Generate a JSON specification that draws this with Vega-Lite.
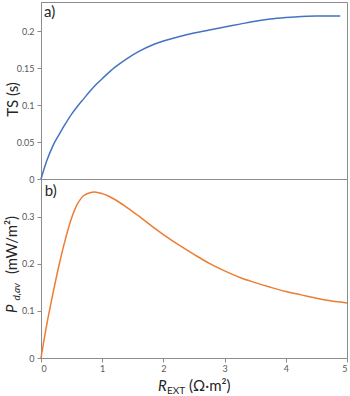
{
  "$schema": "https://vega.github.io/schema/vega-lite/v6.json",
  "padding": {"left": 4, "top": 1, "right": 0, "bottom": 0},
  "spacing": 0,
  "bounds": "flush",
  "config": {
    "view": {"stroke": "#8c8c8c", "strokeWidth": 1},
    "font": "Lato",
    "axis": {
      "domainColor": "#8c8c8c",
      "tickColor": "#8c8c8c",
      "tickSize": 4,
      "labelFont": "Lato",
      "labelFontSize": 9,
      "labelColor": "#595959",
      "labelPadding": 3,
      "grid": false,
      "titleFont": "Lato",
      "titleFontWeight": "normal",
      "titleFontSize": 15,
      "titleColor": "#262626"
    },
    "text": {"font": "Lato", "color": "#262626"}
  },
  "datasets": {
    "ts": [
      {"x": 0, "ts": 0}, {"x": 0.1, "ts": 0.026}, {"x": 0.2, "ts": 0.046}, {"x": 0.3, "ts": 0.061},
      {"x": 0.4, "ts": 0.075}, {"x": 0.5, "ts": 0.088}, {"x": 0.6, "ts": 0.099}, {"x": 0.7, "ts": 0.109},
      {"x": 0.8, "ts": 0.119}, {"x": 0.9, "ts": 0.128}, {"x": 1.0, "ts": 0.136}, {"x": 1.2, "ts": 0.151},
      {"x": 1.4, "ts": 0.163}, {"x": 1.6, "ts": 0.173}, {"x": 1.8, "ts": 0.181}, {"x": 2.0, "ts": 0.187},
      {"x": 2.25, "ts": 0.193}, {"x": 2.5, "ts": 0.198}, {"x": 2.75, "ts": 0.202}, {"x": 3.0, "ts": 0.206},
      {"x": 3.25, "ts": 0.210}, {"x": 3.5, "ts": 0.214}, {"x": 3.75, "ts": 0.217}, {"x": 4.0, "ts": 0.219},
      {"x": 4.25, "ts": 0.2205}, {"x": 4.5, "ts": 0.221}, {"x": 4.89, "ts": 0.221}
    ],
    "pd": [
      {"x": 0, "p": 0}, {"x": 0.1, "p": 0.075}, {"x": 0.2, "p": 0.140}, {"x": 0.3, "p": 0.200},
      {"x": 0.4, "p": 0.253}, {"x": 0.5, "p": 0.297}, {"x": 0.6, "p": 0.328}, {"x": 0.7, "p": 0.345},
      {"x": 0.8, "p": 0.351}, {"x": 0.9, "p": 0.352}, {"x": 1.0, "p": 0.349}, {"x": 1.1, "p": 0.344},
      {"x": 1.2, "p": 0.337}, {"x": 1.4, "p": 0.320}, {"x": 1.6, "p": 0.301}, {"x": 1.8, "p": 0.281},
      {"x": 2.0, "p": 0.262}, {"x": 2.25, "p": 0.240}, {"x": 2.5, "p": 0.220}, {"x": 2.75, "p": 0.201},
      {"x": 3.0, "p": 0.185}, {"x": 3.25, "p": 0.171}, {"x": 3.5, "p": 0.160}, {"x": 3.75, "p": 0.150},
      {"x": 4.0, "p": 0.141}, {"x": 4.25, "p": 0.134}, {"x": 4.5, "p": 0.127}, {"x": 4.75, "p": 0.121},
      {"x": 5.0, "p": 0.117}
    ],
    "la": [{"label": "a)"}],
    "lb": [{"label": "b)"}],
    "t_p": [{"label": "P"}],
    "t_dav": [{"label": "d,av"}],
    "t_unit_p": [{"label": "(mW/m²)"}],
    "t_r": [{"label": "R"}],
    "t_ext": [{"label": "EXT"}],
    "t_unit_r": [{"label": "(Ω·m²)"}]
  },
  "vconcat": [
    {
      "width": 306,
      "height": 177,
      "layer": [
        {
          "data": {"name": "ts"},
          "mark": {"type": "line", "color": "#4472C4", "strokeWidth": 1.5, "interpolate": "catmull-rom"},
          "encoding": {
            "x": {"field": "x", "type": "quantitative", "scale": {"domain": [0, 5], "nice": false}, "axis": null},
            "y": {
              "field": "ts", "type": "quantitative",
              "scale": {"domain": [0, 0.24], "nice": false},
              "axis": {
                "title": "TS (s)",
                "values": [0, 0.025, 0.05, 0.075, 0.1, 0.125, 0.15, 0.175, 0.2, 0.225],
                "labelExpr": "round(datum.value * 40) % 2 == 0 ? '' + datum.value : ''",
                "minExtent": 21, "maxExtent": 21, "titlePadding": 0, "titleY": 97
              }
            }
          }
        },
        {
          "data": {"name": "la"},
          "mark": {"type": "text", "align": "left", "baseline": "alphabetic", "fontSize": 15},
          "encoding": {
            "x": {"datum": 0.05, "type": "quantitative"},
            "y": {"datum": 0.2197, "type": "quantitative"},
            "text": {"field": "label"}
          }
        }
      ]
    },
    {
      "width": 306,
      "height": 179,
      "layer": [
        {
          "data": {"name": "pd"},
          "mark": {"type": "line", "color": "#ED7D31", "strokeWidth": 1.5, "interpolate": "catmull-rom"},
          "encoding": {
            "x": {
              "field": "x", "type": "quantitative",
              "scale": {"domain": [0, 5], "nice": false},
              "axis": {
                "title": null,
                "values": [0, 0.5, 1, 1.5, 2, 2.5, 3, 3.5, 4, 4.5, 5],
                "labelExpr": "round(datum.value * 2) % 2 == 0 ? '' + datum.value : ''",
                "labelPadding": 2
              }
            },
            "y": {
              "field": "p", "type": "quantitative",
              "scale": {"domain": [0, 0.38], "nice": false},
              "axis": {
                "title": null,
                "values": [0, 0.05, 0.1, 0.15, 0.2, 0.25, 0.3, 0.35],
                "labelExpr": "round(datum.value * 20) % 2 == 0 ? '' + datum.value : ''",
                "minExtent": 21, "maxExtent": 21
              }
            }
          }
        },
        {
          "data": {"name": "lb"},
          "mark": {"type": "text", "align": "left", "baseline": "alphabetic", "fontSize": 15},
          "encoding": {
            "x": {"datum": 0.06, "type": "quantitative"},
            "y": {"datum": 0.344, "type": "quantitative"},
            "text": {"field": "label"}
          }
        },
        {
          "data": {"name": "t_p"},
          "mark": {"type": "text", "align": "left", "baseline": "alphabetic", "angle": 270, "fontSize": 15, "fontStyle": "italic"},
          "encoding": {
            "x": {"datum": -0.392, "type": "quantitative"},
            "y": {"datum": 0.0955, "type": "quantitative"},
            "text": {"field": "label"}
          }
        },
        {
          "data": {"name": "t_dav"},
          "mark": {"type": "text", "align": "left", "baseline": "alphabetic", "angle": 270, "fontSize": 10, "fontStyle": "italic"},
          "encoding": {
            "x": {"datum": -0.343, "type": "quantitative"},
            "y": {"datum": 0.122, "type": "quantitative"},
            "text": {"field": "label"}
          }
        },
        {
          "data": {"name": "t_unit_p"},
          "mark": {"type": "text", "align": "left", "baseline": "alphabetic", "angle": 270, "fontSize": 15},
          "encoding": {
            "x": {"datum": -0.392, "type": "quantitative"},
            "y": {"datum": 0.1783, "type": "quantitative"},
            "text": {"field": "label"}
          }
        },
        {
          "data": {"name": "t_r"},
          "mark": {"type": "text", "align": "left", "baseline": "alphabetic", "fontSize": 15, "fontStyle": "italic"},
          "encoding": {
            "x": {"datum": 1.912, "type": "quantitative"},
            "y": {"datum": -0.070, "type": "quantitative"},
            "text": {"field": "label"}
          }
        },
        {
          "data": {"name": "t_ext"},
          "mark": {"type": "text", "align": "left", "baseline": "alphabetic", "fontSize": 10},
          "encoding": {
            "x": {"datum": 2.059, "type": "quantitative"},
            "y": {"datum": -0.0764, "type": "quantitative"},
            "text": {"field": "label"}
          }
        },
        {
          "data": {"name": "t_unit_r"},
          "mark": {"type": "text", "align": "left", "baseline": "alphabetic", "fontSize": 15},
          "encoding": {
            "x": {"datum": 2.42, "type": "quantitative"},
            "y": {"datum": -0.070, "type": "quantitative"},
            "text": {"field": "label"}
          }
        }
      ]
    }
  ]
}
